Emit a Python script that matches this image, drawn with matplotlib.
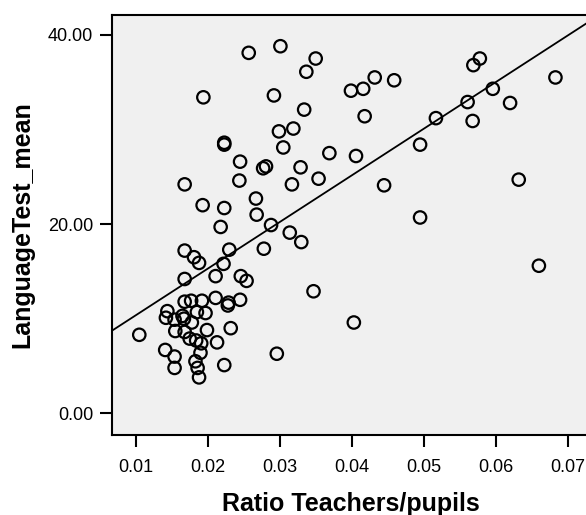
import numpy as np
import matplotlib
matplotlib.use("Agg")
import matplotlib.pyplot as plt
from matplotlib.ticker import FormatStrFormatter

# teacher/pupil ratio per school and mean language test score
ratio = [
    0.0578, 0.0569, 0.0596, 0.0561, 0.0620, 0.0568, 0.0683, 0.0632, 0.0660, 0.0517,
    0.0495, 0.0495, 0.0445, 0.0403, 0.0347, 0.0354, 0.0406, 0.0369, 0.0418, 0.0399,
    0.0416, 0.0432, 0.0459, 0.0350, 0.0337, 0.0334, 0.0301, 0.0257, 0.0194, 0.0292,
    0.0299, 0.0319, 0.0305, 0.0223, 0.0223, 0.0245, 0.0277, 0.0281, 0.0329, 0.0244,
    0.0317, 0.0267, 0.0223, 0.0268, 0.0288, 0.0218, 0.0314, 0.0330, 0.0230, 0.0278,
    0.0222, 0.0211, 0.0246, 0.0254, 0.0168, 0.0193, 0.0168, 0.0181, 0.0188, 0.0168,
    0.0105, 0.0144, 0.0142, 0.0154, 0.0165, 0.0167, 0.0155, 0.0168, 0.0168, 0.0177,
    0.0192, 0.0185, 0.0197, 0.0178, 0.0199, 0.0175, 0.0184, 0.0191, 0.0213, 0.0141,
    0.0154, 0.0183, 0.0190, 0.0186, 0.0154, 0.0188, 0.0223, 0.0211, 0.0228, 0.0229,
    0.0232, 0.0296, 0.0245,
]
lang_mean = [
    37.5, 36.8, 34.3, 32.9, 32.8, 30.9, 35.5, 24.7, 15.6, 31.2,
    28.4, 20.7, 24.1, 9.6, 12.9, 24.8, 27.2, 27.5, 31.4, 34.1,
    34.3, 35.5, 35.2, 37.5, 36.1, 32.1, 38.8, 38.1, 33.4, 33.6,
    29.8, 30.1, 28.1, 28.4, 28.6, 26.6, 25.9, 26.1, 26.0, 24.6,
    24.2, 22.7, 21.7, 21.0, 19.9, 19.7, 19.1, 18.1, 17.3, 17.4,
    15.8, 14.5, 14.5, 14.0, 24.2, 22.0, 17.2, 16.5, 15.9, 14.2,
    8.3, 10.8, 10.1, 9.9, 10.3, 10.0, 8.7, 8.6, 11.8, 11.9,
    11.9, 10.7, 10.6, 9.6, 8.8, 7.9, 7.7, 7.4, 7.5, 6.7,
    6.0, 5.5, 6.4, 4.8, 4.8, 3.8, 5.1, 12.2, 11.4, 11.7,
    9.0, 6.3, 12.0,
]

x_ticks = [0.01, 0.02, 0.03, 0.04, 0.05, 0.06, 0.07]
y_ticks = [0.0, 20.0, 40.0]

plt.rcParams['font.family'] = ['Liberation Sans', 'DejaVu Sans']

fig = plt.figure(figsize=(5.86, 5.15), dpi=100)
ax = fig.add_axes([112 / 586, 80 / 515, 478 / 586, 420 / 515])
ax.set_facecolor('#f0f0f0')

x = np.array(ratio)
y = np.array(lang_mean)
ax.scatter(x, y, s=80, facecolors='none', edgecolors='black', linewidths=1.6, zorder=3)

# least squares fit line across the whole x range
slope, intercept = np.polyfit(x, y, 1)
xlim = (0.00671, 0.0731)
xs = np.array(xlim)
ax.plot(xs, intercept + slope * xs, color='black', linewidth=1.3, zorder=2)

ax.set_xlim(*xlim)
ax.set_ylim(-2.29, 42.1)
ax.set_xticks(x_ticks)
ax.set_yticks(y_ticks)
ax.xaxis.set_major_formatter(FormatStrFormatter('%.2f'))
ax.yaxis.set_major_formatter(FormatStrFormatter('%.2f'))

for side in ['left', 'bottom', 'top', 'right']:
    ax.spines[side].set_linewidth(1.5)
ax.tick_params(axis='both', direction='out', length=8.6, width=1.5, labelsize=13,
               colors='black')
ax.tick_params(axis='y', pad=5)
ax.tick_params(axis='x', pad=9)

ax.set_xlabel('Ratio Teachers/pupils', fontsize=18, fontweight='bold', labelpad=11)
ax.set_ylabel('LanguageTest_mean', fontsize=18, fontweight='bold', labelpad=10)

fig.savefig('out.png', dpi=100)
